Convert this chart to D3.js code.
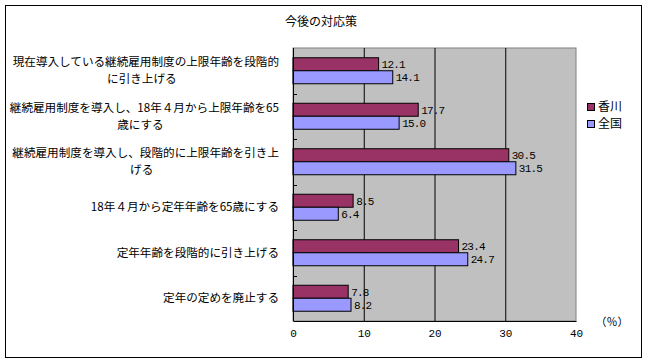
<!DOCTYPE html>
<html>
<head>
<meta charset="utf-8">
<script src="https://cdn.jsdelivr.net/npm/d3@7"></script>
<style>
  body { margin: 0; background: #fff; }
  svg { display: block; }
  text { font-family: "Noto Sans CJK JP", sans-serif; fill: #000; }
</style>
</head>
<body>
<svg id="chart" width="647" height="363"></svg>
<script>
var title = '今後の対応策';
var categories = [
    ['現在導入している継続雇用制度の上限年齢を段階的', 'に引き上げる'],
    ['継続雇用制度を導入し、18年４月から上限年齢を65', '歳にする'],
    ['継続雇用制度を導入し、段階的に上限年齢を引き上', 'げる'],
    ['18年４月から定年年齢を65歳にする'],
    ['定年年齢を段階的に引き上げる'],
    ['定年の定めを廃止する']
];
var seriesNames = ['香川', '全国'];
var kagawa = [12.1, 17.7, 30.5, 8.5, 23.4, 7.8];
var zenkoku = [14.1, 15.0, 31.5, 6.4, 24.7, 8.2];
var xTicks = [0, 10, 20, 30, 40];
var unitLabel = '（％）';

var colours = ['#993366', '#9999FF'];

var svg = d3.select('#chart');

// outer frame
svg.append('rect')
    .attr('x', 5.5).attr('y', 5.5)
    .attr('width', 636).attr('height', 352)
    .attr('fill', 'none').attr('stroke', '#000');

svg.append('text')
    .attr('x', 321).attr('y', 26)
    .attr('text-anchor', 'middle')
    .style('font-size', '12px')
    .text(title);

var plot = { left: 293, right: 576, top: 48, bottom: 321 };

var x = d3.scaleLinear().domain([0, 40]).range([plot.left, plot.right]);
var y = d3.scaleBand()
    .domain(d3.range(categories.length))
    .range([plot.top, plot.bottom]);
var inner = d3.scaleBand()
    .domain([0, 1])
    .range([0, y.bandwidth()])
    .paddingOuter(0.75)
    .paddingInner(0);

// plot background
svg.append('rect')
    .attr('x', plot.left).attr('y', plot.top)
    .attr('width', plot.right - plot.left).attr('height', plot.bottom - plot.top)
    .attr('fill', '#C0C0C0').attr('stroke', '#808080');

// gridlines
svg.append('g')
    .selectAll('line')
    .data(xTicks.slice(1, -1))
    .join('line')
    .attr('x1', d => x(d) + 0.5).attr('x2', d => x(d) + 0.5)
    .attr('y1', plot.top).attr('y2', plot.bottom)
    .attr('stroke', '#000');

// bars
var series = [kagawa, zenkoku];
series.forEach(function (vals, s) {
    svg.append('g')
        .selectAll('rect')
        .data(vals)
        .join('rect')
        .attr('x', x(0))
        .attr('y', (d, i) => y(i) + inner(s))
        .attr('width', d => x(d) - x(0))
        .attr('height', inner.bandwidth())
        .attr('fill', colours[s])
        .attr('stroke', '#000')
        .attr('stroke-width', 1);

    svg.append('g')
        .selectAll('text')
        .data(vals)
        .join('text')
        .attr('x', d => x(d) + 3)
        .attr('y', (d, i) => y(i) + inner(s) + inner.bandwidth() / 2 + 4)
        .style('font-family', '"Liberation Mono", monospace')
        .style('font-size', '11px')
        .style('letter-spacing', '-0.8px')
        .text(d => d.toFixed(1));
});

// axes
var xAxis = d3.axisBottom(x).tickValues(xTicks).tickSize(0).tickPadding(8);
var gx = svg.append('g')
    .attr('transform', 'translate(0,' + plot.bottom + ')')
    .call(xAxis);
gx.select('.domain').attr('stroke', '#000');
gx.selectAll('.tick text')
    .style('font-family', '"Liberation Mono", monospace')
    .style('font-size', '11px')
    .attr('fill', '#000');

svg.append('line')
    .attr('x1', plot.left + 0.5).attr('x2', plot.left + 0.5)
    .attr('y1', plot.top).attr('y2', plot.bottom)
    .attr('stroke', '#000');

// category ticks (inside)
svg.append('g')
    .selectAll('line')
    .data(d3.range(1, categories.length))
    .join('line')
    .attr('x1', plot.left).attr('x2', plot.left + 4)
    .attr('y1', d => Math.round(y(d)) + 0.5).attr('y2', d => Math.round(y(d)) + 0.5)
    .attr('stroke', '#000');

// category labels
var labelRight = 279;
categories.forEach(function (lines, i) {
    var cy = y(i) + y.bandwidth() / 2;
    var lh = 17;
    var g = svg.append('g');
    var t0 = g.append('text')
        .attr('x', labelRight)
        .attr('text-anchor', 'end')
        .attr('y', cy - (lines.length - 1) * lh / 2 + 4)
        .style('font-size', '11.6px')
        .text(lines[0]);
    if (lines.length > 1) {
        var w = t0.node().getComputedTextLength();
        g.append('text')
            .attr('x', labelRight - w / 2 - 4)
            .attr('text-anchor', 'middle')
            .attr('y', cy + lh / 2 + 4)
            .style('font-size', '11.6px')
            .text(lines[1]);
    }
});

// legend
var legend = svg.append('g').attr('transform', 'translate(587,103)');
seriesNames.forEach(function (name, i) {
    legend.append('rect')
        .attr('x', 0.5).attr('y', i * 17 + 0.5)
        .attr('width', 7).attr('height', 7)
        .attr('fill', colours[i]).attr('stroke', '#000');
    legend.append('text')
        .attr('x', 11).attr('y', i * 17 + 8)
        .style('font-size', '12px')
        .text(name);
});

svg.append('text')
    .attr('x', 612).attr('y', 326)
    .attr('text-anchor', 'middle')
    .style('font-size', '11px')
    .text(unitLabel);
</script>
</body>
</html>
